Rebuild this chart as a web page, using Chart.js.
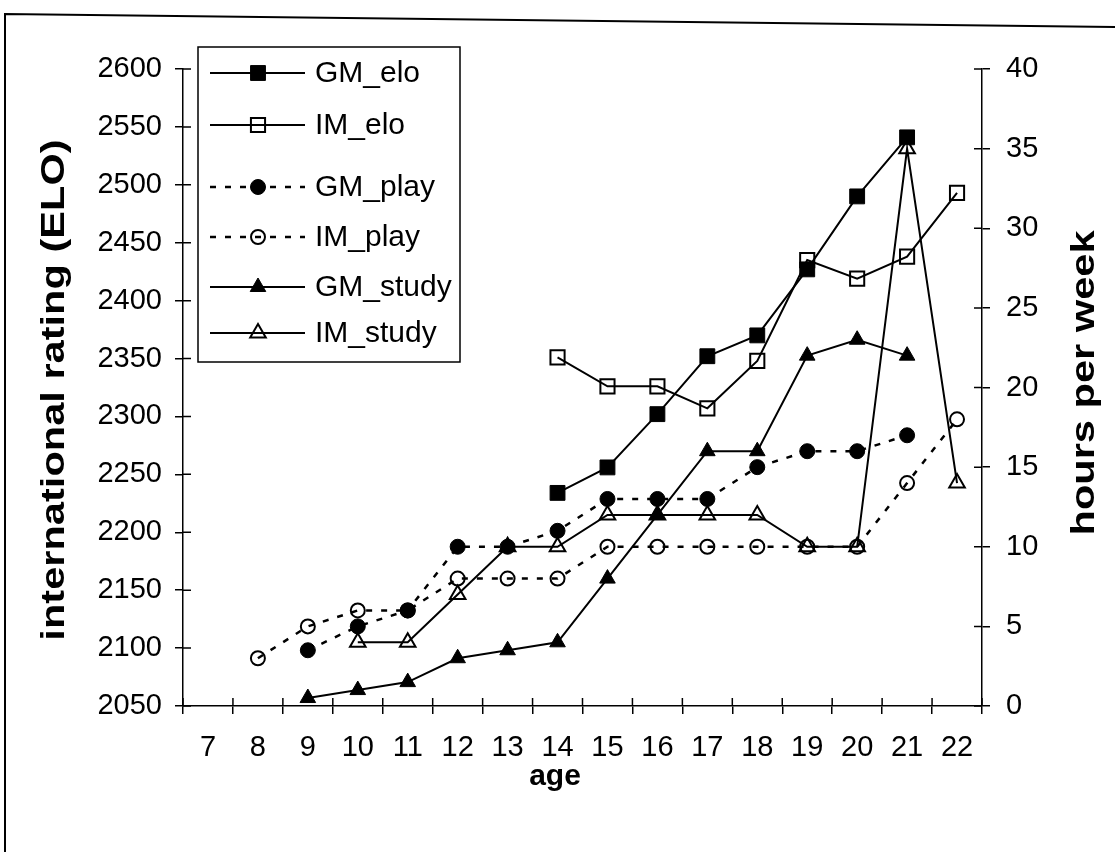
<!DOCTYPE html>
<html><head><meta charset="utf-8">
<script src="https://cdn.jsdelivr.net/npm/chart.js@4.4.1/dist/chart.umd.min.js"></script>
<style>html,body{margin:0;padding:0;background:#fff;}#wrap{position:relative;width:1115px;height:852px;}</style>
</head><body><div id="wrap"><canvas id="c" width="1115" height="852"></canvas></div>
<script>
const ages = ['7','8','9','10','11','12','13','14','15','16','17','18','19','20','21','22'];
const gmElo   = [null,null,null,null,null,null,null,2234,2256,2302,2352,2370,2427,2490,2541,null];
const imElo   = [null,null,null,null,null,null,null,2351,2326,2326,2307,2348,2435,2419,2438,2493];
const gmPlay  = [null,null,3.5,5,6,10,10,11,13,13,13,15,16,16,17,null];
const imPlay  = [null,3,5,6,6,8,8,8,10,10,10,10,10,10,14,18];
const gmStudy = [null,null,0.5,1,1.5,3,3.5,4,8,12,16,16,22,23,22,null];
const imStudy = [null,null,null,4,4,7,10,10,12,12,12,12,10,10,35,14];
const eloTicks = {min:2050, max:2600, step:50};
const hourTicks = {min:0, max:40, step:5};

const FONT = "'Liberation Sans', Arial, sans-serif";
const HOLLOW = 'rgba(0,0,0,0)';

function ds(label, data, axis, style, filled, dashed, r){
  return {label, data, yAxisID: axis, borderColor:'#000', borderWidth: dashed?2.5:2,
    borderDash: dashed?[6,9]:[], pointStyle: style, pointRadius: r, pointHoverRadius: r,
    pointBackgroundColor: filled?'#000':HOLLOW, pointBorderColor:'#000',
    pointBorderWidth: filled?1:2, fill:false, tension:0, spanGaps:false};
}
const datasets = [
  ds('GM_elo', gmElo, 'y', 'rect', true, false, 10.5),
  ds('IM_elo', imElo, 'y', 'rect', false, false, 10),
  ds('GM_play', gmPlay, 'y1', 'circle', true, true, 7.5),
  ds('IM_play', imPlay, 'y1', 'circle', false, true, 7),
  ds('GM_study', gmStudy, 'y1', 'triangle', true, false, 9),
  ds('IM_study', imStudy, 'y1', 'triangle', false, false, 9)
];

function stretchedText(ctx, text, x, y, sx){
  ctx.save(); ctx.translate(x,y); ctx.rotate(-Math.PI/2); ctx.scale(sx,1);
  ctx.fillText(text,0,0); ctx.restore();
}

const decor = {
  id:'decor',
  beforeDraw(chart){
    const ctx = chart.ctx;
    ctx.save();
    ctx.fillStyle='#fff'; ctx.fillRect(0,0,chart.width,chart.height);
    ctx.strokeStyle='#000'; ctx.lineWidth=2;
    ctx.beginPath(); ctx.moveTo(5,852); ctx.lineTo(5,14); ctx.lineTo(1115,27); ctx.stroke();
    ctx.restore();
  },
  afterDraw(chart){
    const ctx = chart.ctx;
    const xs = chart.scales.x, ys = chart.scales.y, y1 = chart.scales.y1;
    ctx.save();
    ctx.strokeStyle='#000'; ctx.lineWidth=1.5;
    const n = ages.length;
    ctx.beginPath();
    for(let i=0;i<=n;i++){
      const px = xs.left + i*xs.width/n;
      ctx.moveTo(px, xs.top); ctx.lineTo(px, xs.top-8);
    }
    ys.ticks.forEach(t=>{const py=ys.getPixelForValue(t.value); ctx.moveTo(ys.right,py); ctx.lineTo(ys.right+8,py);});
    y1.ticks.forEach(t=>{const py=y1.getPixelForValue(t.value); ctx.moveTo(y1.left,py); ctx.lineTo(y1.left-8,py);});
    ctx.stroke();
    ctx.fillStyle='#000';
    ctx.font = "bold 33px " + FONT;
    ctx.textAlign='center'; ctx.textBaseline='middle';
    stretchedText(ctx,'international rating (ELO)',55,390,1.26);
    stretchedText(ctx,'hours per week',1085,383,1.26);
    ctx.font = "bold 30px " + FONT;
    ctx.fillText('age', 555, 777);
    // legend
    const L=198, T=47, R=460, B=362;
    ctx.fillStyle='#fff'; ctx.fillRect(L,T,R-L,B-T);
    ctx.lineWidth=1.5; ctx.strokeRect(L,T,R-L,B-T);
    const rows=[73,125,187,237,287,333];
    chart.data.datasets.forEach((d,i)=>{
      const y = rows[i];
      ctx.save();
      ctx.strokeStyle='#000'; ctx.lineWidth=d.borderWidth; ctx.setLineDash(d.borderDash);
      ctx.beginPath(); ctx.moveTo(210,y); ctx.lineTo(305,y); ctx.stroke();
      ctx.setLineDash([]);
      ctx.fillStyle=d.pointBackgroundColor; ctx.strokeStyle='#000'; ctx.lineWidth=d.pointBorderWidth;
      Chart.helpers.drawPoint(ctx,{pointStyle:d.pointStyle, rotation:0, radius:d.pointRadius, borderWidth:d.pointBorderWidth},258,y);
      ctx.restore();
      ctx.fillStyle='#000'; ctx.font="30px "+FONT; ctx.textAlign='left'; ctx.textBaseline='middle';
      ctx.fillText(d.label,315,y+1);
    });
    ctx.restore();
  }
};

const tickFont = {family: FONT, size: 29};
const plain = v => String(v);
new Chart(document.getElementById('c'), {
  type:'line',
  data:{labels: ages, datasets},
  options:{
    responsive:false, animation:false, devicePixelRatio:1,
    layout:{padding:{left:0,right:0,top:69,bottom:0}},
    plugins:{legend:{display:false}, tooltip:{enabled:false}},
    scales:{
      x:{type:'category', offset:true,
        grid:{offset:true, drawOnChartArea:false, tickLength:8, color:'#000', lineWidth:1.5},
        border:{display:true, color:'#000', width:1.5},
        ticks:{color:'#000', font:tickFont, padding:17, maxRotation:0, autoSkip:false},
        afterFit(s){s.height=146;}},
      y:{position:'left', min:eloTicks.min, max:eloTicks.max,
        grid:{drawOnChartArea:false, tickLength:8, color:'#000', lineWidth:1.5},
        border:{display:true, color:'#000', width:1.5},
        ticks:{stepSize:eloTicks.step, color:'#000', font:tickFont, padding:13, callback:plain},
        afterFit(s){s.width=183;}},
      y1:{position:'right', min:hourTicks.min, max:hourTicks.max,
        grid:{drawOnChartArea:false, tickLength:8, color:'#000', lineWidth:1.5},
        border:{display:true, color:'#000', width:1.5},
        ticks:{stepSize:hourTicks.step, color:'#000', font:tickFont, padding:16, callback:plain},
        afterFit(s){s.width=133;}}
    }
  },
  plugins:[decor]
});
</script></body></html>
